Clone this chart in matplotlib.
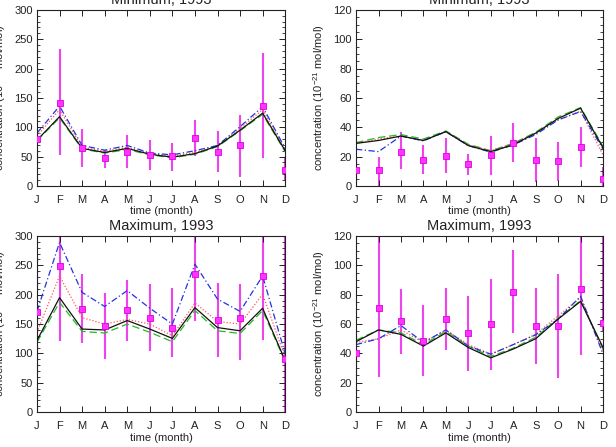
import matplotlib
matplotlib.use('Agg')
import matplotlib.pyplot as plt
from matplotlib.ticker import MultipleLocator
import numpy as np

plt.rcParams['font.family'] = ['Liberation Sans', 'DejaVu Sans']
plt.rcParams['mathtext.fontset'] = 'custom'
plt.rcParams['mathtext.rm'] = 'Liberation Sans'
plt.rcParams['mathtext.default'] = 'regular'

months = ['J', 'F', 'M', 'A', 'M', 'J', 'J', 'A', 'S', 'O', 'N', 'D']

# --- Minimum, left (10^-12 mol/mol)
minL_black = [78, 118, 64, 57, 64, 54, 49, 55, 68, 95, 124, 60]
minL_green = [77, 116, 63, 56, 62, 53, 48, 54, 67, 94, 122, 58]
minL_red = [85, 130, 66, 59, 66, 55, 51, 57, 68, 98, 130, 62]
minL_blue = [90, 136, 69, 61, 69, 56, 53, 60, 69, 101, 135, 64]
minL_obs = [80, 142, 65, 47, 58, 53, 51, 81, 57, 69, 136, 27]
minL_lo = [3, 52, 33, 31, 31, 27, 26, 51, 23, 16, 47, 10]
minL_hi = [105, 233, 97, 61, 87, 78, 74, 113, 93, 121, 227, 50]

# --- Minimum, right (10^-21 mol/mol)
minR_black = [29, 31, 34, 31, 37, 27.5, 23.4, 28, 36, 46, 53, 26]
minR_green = [29.5, 33, 35, 32, 37.5, 28.4, 24, 29, 36.6, 47, 53.4, 27]
minR_red = [29, 32, 34, 31, 37, 28, 24, 29, 36, 45, 51, 21]
minR_blue = [25, 23.4, 34, 30.7, 37, 27.5, 23, 28, 35, 45, 50.7, 25]
minR_obs = [11, 11, 23.4, 17.7, 20.5, 15, 21, 29.5, 17.7, 17.3, 26.8, 5]
minR_lo = [1, 0, 11.4, 8, 8.6, 7.5, 7.5, 16, 3, 3.6, 13, 0]
minR_hi = [19, 19.5, 37, 28, 32.5, 22, 34, 43, 33, 30, 40.5, 13]

# --- Maximum, left (10^-12 mol/mol)
maxL_black = [122, 195, 141.5, 140, 156, 141.5, 125.6, 178, 144, 138.6, 177, 87.5]
maxL_green = [119, 187, 137.5, 134.7, 150, 136, 120, 173, 138.6, 134, 173, 86]
maxL_red = [136, 232, 161, 150, 158, 150, 130, 186, 154.5, 150, 201, 93]
maxL_blue = [171.6, 289, 204, 180, 207, 177, 150, 252, 192.6, 171.6, 232, 99]
maxL_obs = [170, 249, 175.6, 147, 174, 161, 144, 235, 157, 161, 232, 90]
maxL_lo = [70, 120.5, 117, 90, 120.5, 104.5, 94, 154.5, 94, 89, 123, -10]
maxL_hi = [270, 380, 235, 203, 225, 218, 211, 320, 220, 218, 340, 310]

# --- Maximum, right (10^-21 mol/mol)
maxR_black = [48, 56, 53, 45, 54, 44, 37, 43, 50, 63.4, 75.5, 44]
maxR_green = [49, 56, 54, 46, 55, 45, 38, 43.6, 51, 64, 76, 43]
maxR_red = [47.5, 50, 56, 47.5, 56, 46, 39.5, 46, 53, 65.7, 78, 41]
maxR_blue = [46, 50, 59, 47.5, 56, 45, 39.5, 46, 52.7, 63.4, 79, 39.5]
maxR_obs = [40, 71, 62, 48.6, 63.4, 54, 60, 82, 58.6, 58.6, 84, 60.5]
maxR_lo = [28, 23.6, 39.5, 24.8, 42.3, 28, 29, 54, 32.7, 23, 39, 55]
maxR_hi = [52, 125, 84, 73, 84.5, 79, 91, 110.5, 84.5, 94, 128, 130]

TXT = '#222222'


def panel(ax, title, black, green, red, blue, obs, lo, hi, ymax, major, minor, ylabel):
    x = np.arange(12)
    ax.vlines(x, lo, hi, color='#ee44ee', lw=1.5, zorder=1)
    ax.plot(x, black, color='#111111', lw=0.9, zorder=3)
    ax.plot(x, green, color='#22bb22', lw=0.9, ls=(0, (6, 3)), zorder=2)
    ax.plot(x, red, color='#ff5555', lw=0.9, ls=(0, (1, 1.5)), zorder=2)
    ax.plot(x, blue, color='#2233dd', lw=0.9, ls=(0, (5, 2, 1, 2)), zorder=2)
    ax.plot(x, obs, 's', ms=3.8, color='#ff33ff', mec='#dd00dd', mew=0.6, zorder=4)

    ax.set_xlim(0, 11)
    ax.set_ylim(0, ymax)
    ax.set_xticks(x)
    ax.set_xticklabels(months)
    ax.yaxis.set_major_locator(MultipleLocator(major))
    ax.yaxis.set_minor_locator(MultipleLocator(minor))
    ax.tick_params(axis='both', which='both', direction='in', top=True, right=True,
                   colors=TXT, labelsize=8)
    ax.tick_params(axis='both', which='major', length=4, width=0.7)
    ax.tick_params(axis='y', which='minor', length=2, width=0.6)
    ax.tick_params(axis='x', which='major', pad=6.5)
    ax.tick_params(axis='y', which='major', pad=3)
    for s in ax.spines.values():
        s.set_color(TXT)
        s.set_linewidth(0.8)

    ticks = ax.yaxis.get_major_ticks()
    ticks[0].label1.set_va('bottom')
    ticks[-1].label1.set_va('top')

    ax.set_title(title, fontsize=10.5, color=TXT, pad=4)
    ax.set_xlabel('time (month)', fontsize=8, color=TXT, labelpad=1)
    ax.set_ylabel(ylabel, fontsize=8, color=TXT)
    ax.yaxis.set_label_coords(-0.118, 0.5)


fig = plt.figure(figsize=(6.16, 4.47), dpi=100)
w = 0.403
h = 0.394
ax1 = fig.add_axes([0.060, 0.584, w, h])
ax2 = fig.add_axes([0.578, 0.584, 0.401, h])
ax3 = fig.add_axes([0.060, 0.078, w, h])
ax4 = fig.add_axes([0.578, 0.078, 0.401, h])

lab12 = 'concentration (10$^{-12}$ mol/mol)'
lab21 = 'concentration (10$^{-21}$ mol/mol)'

panel(ax1, 'Minimum, 1993', minL_black, minL_green, minL_red, minL_blue,
      minL_obs, minL_lo, minL_hi, 300, 50, 10, lab12)
panel(ax2, 'Minimum, 1993', minR_black, minR_green, minR_red, minR_blue,
      minR_obs, minR_lo, minR_hi, 120, 20, 5, lab21)
panel(ax3, 'Maximum, 1993', maxL_black, maxL_green, maxL_red, maxL_blue,
      maxL_obs, maxL_lo, maxL_hi, 300, 50, 10, lab12)
panel(ax4, 'Maximum, 1993', maxR_black, maxR_green, maxR_red, maxR_blue,
      maxR_obs, maxR_lo, maxR_hi, 120, 20, 5, lab21)

fig.savefig('out.png', dpi=100)
